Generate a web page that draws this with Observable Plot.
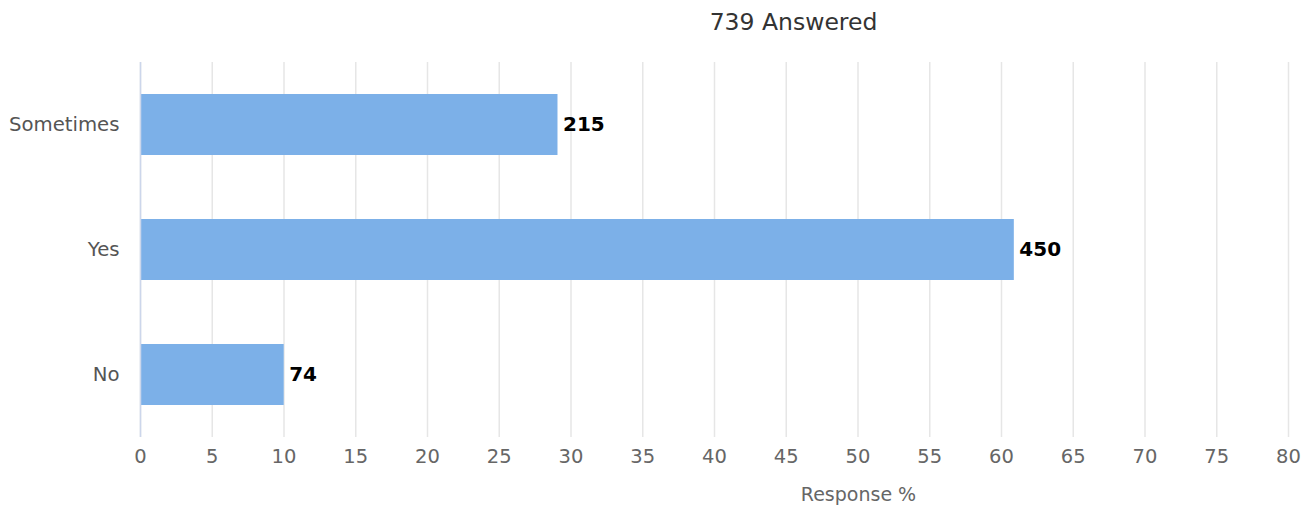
<!DOCTYPE html>
<html>
<head>
<meta charset="utf-8">
<script src="https://cdn.jsdelivr.net/npm/d3@7"></script>
<script src="https://cdn.jsdelivr.net/npm/@observablehq/plot@0.6"></script>
<style>
  body { margin: 0; background: #fff; font-family: "DejaVu Sans", sans-serif; }
  #title { width: 1315px; box-sizing: border-box; padding-left: 272px; text-align: center;
           height: 44px; line-height: 44px; font-size: 23.5px; color: #333; }
</style>
</head>
<body>
<div id="title">739 Answered</div>
<div id="chart"></div>
<script>
const total = 739;
const categories = ["Sometimes", "Yes", "No"];
const counts = [215, 450, 74];
const xTicks = [0, 5, 10, 15, 20, 25, 30, 35, 40, 45, 50, 55, 60, 65, 70, 75, 80];
const xLabel = "Response %";

const data = categories.map((c, i) => ({category: c, count: counts[i], pct: counts[i] / total * 100}));

const chart = Plot.plot({
  width: 1315,
  height: 464,
  marginTop: 18,
  marginBottom: 71,
  marginLeft: 140,
  marginRight: 27,
  style: {fontFamily: "DejaVu Sans, sans-serif", fontSize: "19px", color: "#666", background: "#fff"},
  x: {domain: [0, 80], ticks: xTicks},
  y: {domain: categories, paddingInner: 0.51, paddingOuter: 0.255},
  marks: [
    Plot.gridX(xTicks, {stroke: "#e6e6e6", strokeOpacity: 1, strokeWidth: 1.5}),
    Plot.barX(data, {x: "pct", y: "category", fill: "#7cb0e8"}),
    Plot.ruleX([0], {stroke: "#ccd6eb", strokeWidth: 1.5}),
    Plot.text(data, {x: "pct", y: "category", text: d => String(d.count), textAnchor: "start", dx: 5,
      fill: "#000", fontWeight: "bold", fontSize: 20}),
    Plot.axisX(xTicks, {tickSize: 0, tickPadding: 12, label: null, fontSize: 19.5, fill: "#666"}),
    Plot.axisY({tickSize: 0, tickPadding: 21, label: null, fontSize: 19.7, fill: "#555"}),
    Plot.text([xLabel], {frameAnchor: "bottom", dx: 144, dy: 63, text: d => d, fill: "#666", fontSize: 19})
  ]
});
document.getElementById("chart").appendChild(chart);
</script>
</body>
</html>
